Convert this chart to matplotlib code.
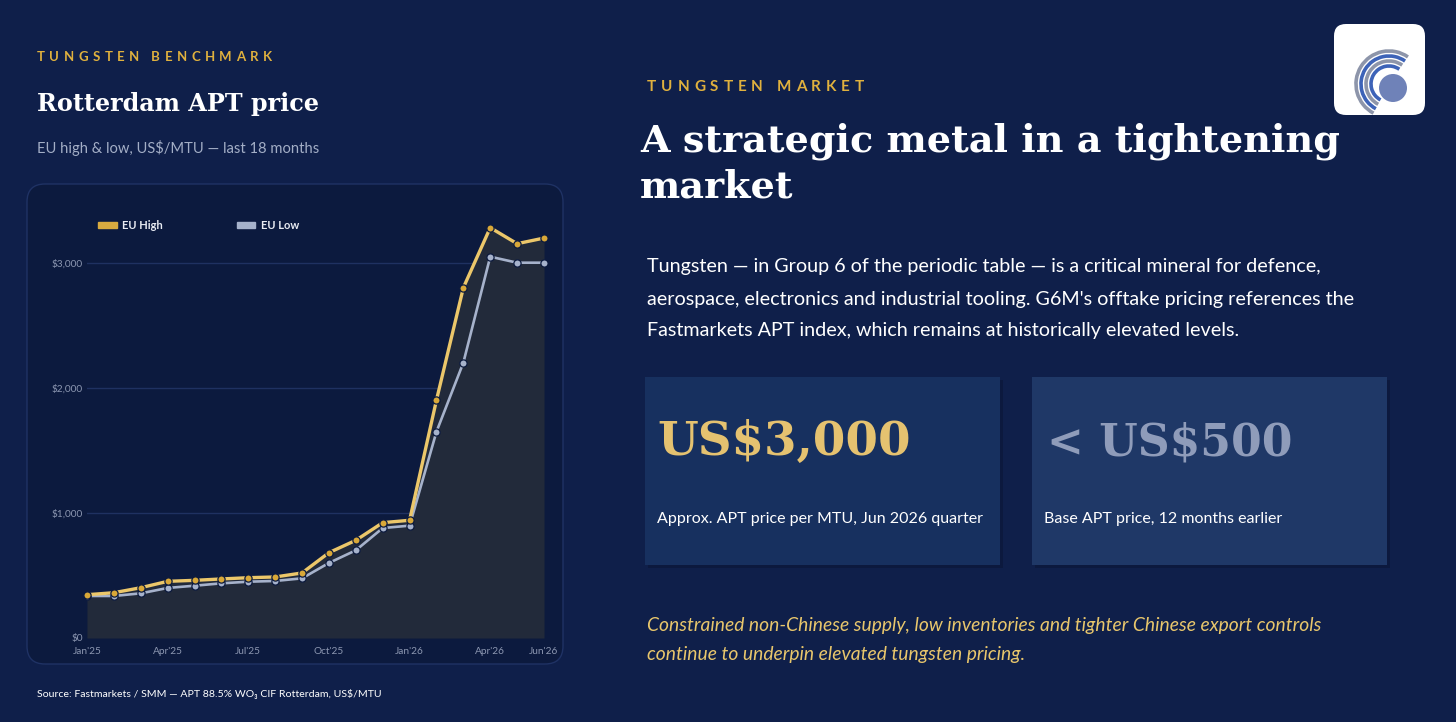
import matplotlib
matplotlib.use("Agg")
import matplotlib.pyplot as plt
from matplotlib.patches import FancyBboxPatch, Rectangle, Circle, Arc, Patch

# ---------------- Data ----------------
months = ["Jan'25", "Feb'25", "Mar'25", "Apr'25", "May'25", "Jun'25", "Jul'25", "Aug'25", "Sep'25",
          "Oct'25", "Nov'25", "Dec'25", "Jan'26", "Feb'26", "Mar'26", "Apr'26", "May'26", "Jun'26"]
eu_high = [346, 362, 402, 453, 461, 472, 482, 488, 520, 682, 781, 922, 941, 1902, 2800, 3280, 3152, 3197]
eu_low = [336, 336, 357, 400, 418, 437, 450, 456, 477, 600, 701, 879, 898, 1649, 2201, 3048, 3000, 3000]
tick_idx = [0, 3, 6, 9, 12, 15, 17]
yticks = [0, 1000, 2000, 3000]
ytick_labels = ["$0", "$1,000", "$2,000", "$3,000"]

# ---------------- Colours / fonts ----------------
BG = "#0f1f4a"
PANEL = "#0c1a3e"
GOLD = "#e0b13e"
GOLD_LINE = "#ecc76a"
LOW = "#a6b2cb"
MUTED = "#8c97b1"
SERIF = "DejaVu Serif"
SANS = ["Lato", "DejaVu Sans"]

W, H = 1456, 722
fig = plt.figure(figsize=(W / 100, H / 100), dpi=100)
fig.patch.set_facecolor(BG)
r = fig.canvas.get_renderer()

# background axes in pixel units (y from top)
bg = fig.add_axes([0, 0, 1, 1])
bg.set_xlim(0, W)
bg.set_ylim(H, 0)
bg.axis("off")


def fit(x, y, s, width, size=20, **kw):
    t = bg.text(x, y, s, fontsize=size, va="baseline", **kw)
    w = t.get_window_extent(r).width
    t.set_fontsize(size * width / w)
    return t


def tracked(x, y, s, width, size, **kw):
    widths = []
    for ch in s:
        t = bg.text(0, 0, ch, fontsize=size, **kw)
        widths.append(t.get_window_extent(r).width)
        t.remove()
    gap = (width - sum(widths)) / (len(s) - 1)
    for ch, w in zip(s, widths):
        bg.text(x, y, ch, fontsize=size, va="center", **kw)
        x += w + gap


# ---------------- Left: chart card ----------------
tracked(37, 57, "TUNGSTEN BENCHMARK", 235, 9.5, color=GOLD, family=SANS, weight="bold")
fit(37, 111, "Rotterdam APT price", 282, family=SERIF, weight="bold", color="white")
fit(37, 153, "EU high & low, US$/MTU \u2014 last 18 months", 281, family=SANS, color="#a3aec6")

bg.add_patch(FancyBboxPatch((27, 184), 536, 480, boxstyle="round,pad=0,rounding_size=18",
                            facecolor=PANEL, edgecolor="#1f3264", linewidth=1))

x0, x1, ybase, px_per_k = 87, 544, 638, 125.1
ymax = 3400
ax = fig.add_axes([x0 / W, 1 - ybase / H, (x1 - x0) / W, ymax / 1000 * px_per_k / H])
ax.patch.set_alpha(0)
x = list(range(len(months)))

ax.fill_between(x, 0, eu_high, color="#222a3a", zorder=1, linewidth=0)
for v in yticks[1:]:
    ax.axhline(v, color="#1f3161", linewidth=1, zorder=0.5)
ax.axhline(0, color="#2a3550", linewidth=0.8, zorder=1.5)

ax.plot(x, eu_low, color=LOW, linewidth=1.9, marker="o", markersize=5.2,
        markerfacecolor=LOW, markeredgecolor=PANEL, markeredgewidth=0.9, zorder=3, clip_on=False)
ax.plot(x, eu_high, color=GOLD_LINE, linewidth=2.4, marker="o", markersize=5.2,
        markerfacecolor="#d9a838", markeredgecolor=PANEL, markeredgewidth=0.9, zorder=4, clip_on=False)

ax.set_xlim(0, len(months) - 1)
ax.set_ylim(0, ymax)
ax.set_xticks(tick_idx, [months[i] for i in tick_idx])
ax.set_yticks(yticks, ytick_labels)
ax.tick_params(length=0, labelsize=7.3, labelcolor=MUTED)
ax.tick_params(axis="x", pad=6.3)
ax.tick_params(axis="y", pad=3)
for lab in ax.get_xticklabels() + ax.get_yticklabels():
    lab.set_family(SANS)
for s in ax.spines.values():
    s.set_visible(False)

leg = ax.legend(handles=[Patch(color="#d9ab40", label="EU High"), Patch(color=LOW, label="EU Low")],
                loc="upper left", bbox_to_anchor=(98 / W, 1 - 220 / H), bbox_transform=fig.transFigure,
                ncol=2, frameon=False, handlelength=1.7, handleheight=0.5, handletextpad=0.5,
                columnspacing=6.6, borderpad=0, borderaxespad=0,
                prop={"family": SANS, "weight": "bold", "size": 8})
for t in leg.get_texts():
    t.set_color("#e8ebf2")

fit(37, 697, "Source: Fastmarkets / SMM \u2014 APT 88.5% WO\u2083 CIF Rotterdam, US$/MTU", 341,
    family=SANS, color="white")

# ---------------- Right: text panel ----------------
tracked(647, 87, "TUNGSTEN MARKET", 217, 11, color=GOLD, family=SANS, weight="bold")
t1 = fit(640, 152, "A strategic metal in a tightening", 701, family=SERIF, weight="bold", color="white")
bg.text(640, 198, "market", fontsize=t1.get_fontsize(), family=SERIF, weight="bold", color="white",
        va="baseline")

para = ["Tungsten \u2014 in Group 6 of the periodic table \u2014 is a critical mineral for defence,",
        "aerospace, electronics and industrial tooling. G6M's offtake pricing references the",
        "Fastmarkets APT index, which remains at historically elevated levels."]
p2 = fit(647, 304.5, para[1], 711, family=SANS, color="white")
for line, yb in zip([para[0], para[2]], [272, 336]):
    bg.text(647, yb, line, fontsize=p2.get_fontsize(), family=SANS, color="white", va="baseline")

# stat boxes
for bx, col in [(645, "#17305f"), (1032, "#1f3867")]:
    bg.add_patch(Rectangle((bx + 3, 380), 355, 188, facecolor="#0a1636", alpha=0.6, linewidth=0))
    bg.add_patch(Rectangle((bx, 377), 355, 188, facecolor=col, linewidth=0))

fit(657, 455, "US$3,000", 253, family=SERIF, weight="bold", color="#e5c270")
fit(1047, 455, "< US$500", 245, family=SERIF, weight="bold", color="#8f9cba")
l1 = fit(657, 523, "Approx. APT price per MTU, Jun 2026 quarter", 325, family=SANS, color="white")
bg.text(1044, 523, "Base APT price, 12 months earlier", fontsize=l1.get_fontsize(), family=SANS,
        color="white", va="baseline")

q1 = fit(647, 631, "Constrained non-Chinese supply, low inventories and tighter Chinese export controls",
         671, family=SANS, style="italic", color="#e8c66c")
bg.text(647, 660, "continue to underpin elevated tungsten pricing.", fontsize=q1.get_fontsize(),
        family=SANS, style="italic", color="#e8c66c", va="baseline")

# ---------------- Logo ----------------
logo = FancyBboxPatch((1334, 24), 91, 91, boxstyle="round,pad=0,rounding_size=12",
                      facecolor="white", edgecolor="none")
bg.add_patch(logo)
bg.add_patch(Circle((1393, 88), 14, facecolor="#6f82b8", edgecolor="none"))
for rad, col in [(18, "#3d63b8"), (23, "#8d95aa"), (28, "#3d63b8"), (33, "#8d95aa")]:
    a = Arc((1389, 84), 2 * rad, 2 * rad, theta1=118, theta2=305, color=col, linewidth=2.6)
    bg.add_patch(a)
    a.set_clip_path(logo)

fig.savefig("out.png", dpi=100, facecolor=BG)
